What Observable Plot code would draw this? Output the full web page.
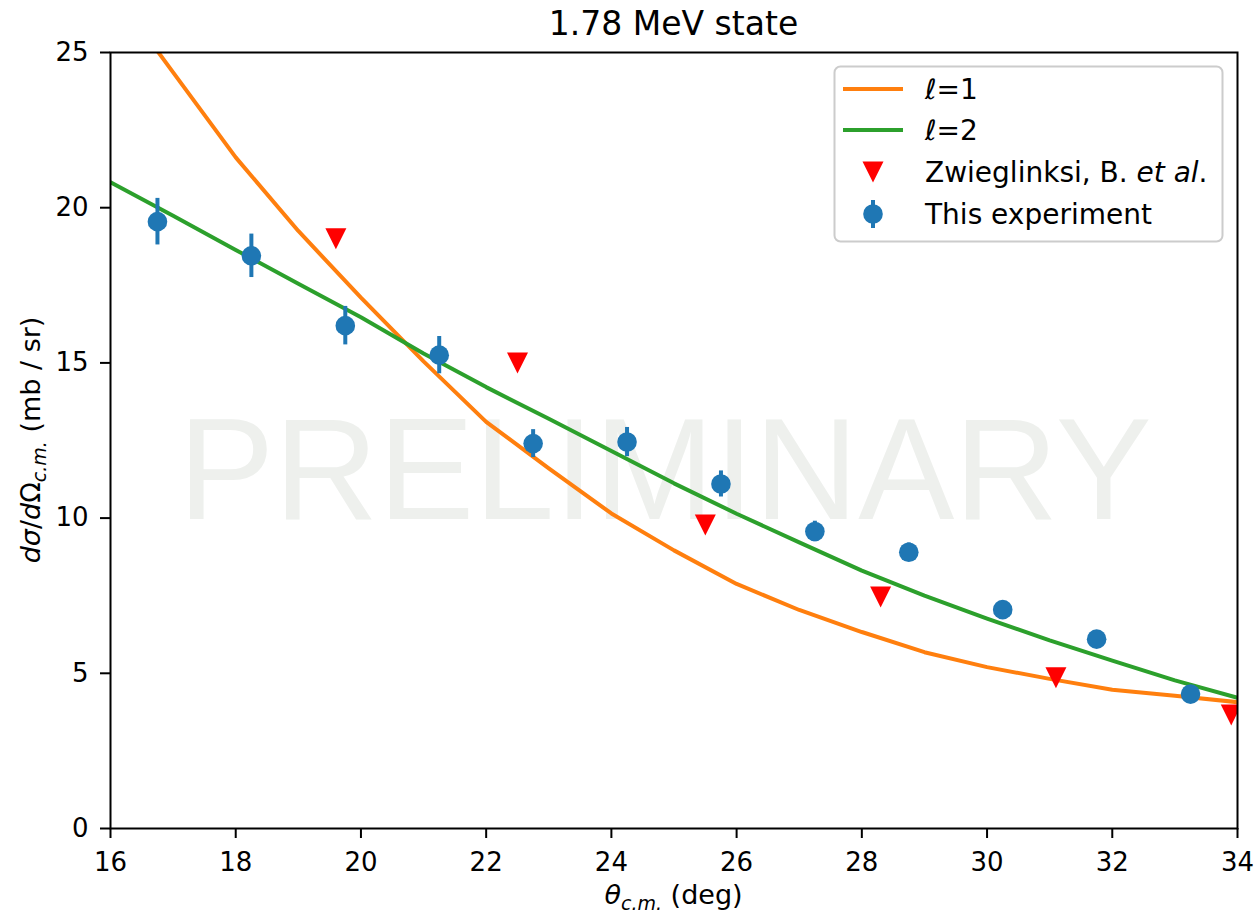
<!DOCTYPE html>
<html><head><meta charset="utf-8">
<script src="https://cdn.jsdelivr.net/npm/d3@7"></script>
<script src="https://cdn.jsdelivr.net/npm/@observablehq/plot@0.6"></script>
<style>html,body{margin:0;padding:0;background:#fff} svg{display:block}</style>
</head><body><div id="chart"></div>
<script>
// ---- data ----
const expAngle = [16.75, 18.25, 19.75, 21.25, 22.75, 24.25, 25.75, 27.25, 28.75, 30.25, 31.75, 33.25];
const expValue = [19.55, 18.45, 16.2, 15.25, 12.4, 12.45, 11.1, 9.57, 8.9, 7.05, 6.1, 4.33];
const expError = [0.75, 0.7, 0.62, 0.6, 0.45, 0.47, 0.42, 0.33, 0.3, 0.2, 0.18, 0.15];
const zwAngle = [19.6, 22.5, 25.5, 28.3, 31.1, 33.9];
const zwValue = [19.0, 15.0, 9.78, 7.46, 4.86, 3.66];
const calcAngle = [16, 17, 18, 19, 20, 21, 22, 23, 24, 25, 26, 27, 28, 29, 30, 31, 32, 33, 34];
const l1Value = [27.1, 24.36, 21.62, 19.25, 17.1, 15.05, 13.1, 11.6, 10.15, 8.96, 7.88, 7.04, 6.33, 5.68, 5.2, 4.82, 4.47, 4.28, 4.07];
const l2Value = [20.82, 19.74, 18.64, 17.55, 16.47, 15.3, 14.22, 13.2, 12.16, 11.12, 10.14, 9.22, 8.31, 7.5, 6.76, 6.06, 5.41, 4.77, 4.21];
const xTicks = [16, 18, 20, 22, 24, 26, 28, 30, 32, 34];
const yTicks = [0, 5, 10, 15, 20, 25];
const titleText = "1.78 MeV state";
const watermarkText = "PRELIMINARY";

const C_L1 = "#ff7f0e", C_L2 = "#2ca02c", C_EXP = "#1f77b4", C_ZW = "#ff0000";

const expData = expAngle.map((a, i) => ({a, v: expValue[i], lo: expValue[i] - expError[i], hi: expValue[i] + expError[i]}));
const zwData = zwAngle.map((a, i) => ({a, v: zwValue[i]}));
const l1Data = calcAngle.map((a, i) => ({a, v: l1Value[i]}));
const l2Data = calcAngle.map((a, i) => ({a, v: l2Value[i]}));

const triangleDown = {
  draw(ctx, size) {
    const a = Math.sqrt(size / Math.PI);
    ctx.moveTo(0, a);
    ctx.lineTo(-a, -a);
    ctx.lineTo(a, -a);
    ctx.closePath();
  }
};

const W = 1259, H = 916, ML = 110, MR = 22, MT = 52, MB = 88;

const svg = Plot.plot({
  width: W, height: H,
  marginLeft: ML, marginRight: MR, marginTop: MT, marginBottom: MB,
  style: {fontFamily: "DejaVu Sans", fontSize: "26px", color: "black", background: "white", overflow: "visible"},
  x: {domain: [16, 34], label: null},
  y: {domain: [0, 25], label: null},
  marks: [
    Plot.text([watermarkText], {frameAnchor: "middle", text: d => d, fontFamily: "Liberation Sans", fontSize: 144, fill: "#eef0ed", dx: -9, dy: 32}),
    Plot.line(l1Data, {x: "a", y: "v", stroke: C_L1, strokeWidth: 4, clip: true}),
    Plot.line(l2Data, {x: "a", y: "v", stroke: C_L2, strokeWidth: 4, clip: true}),
    Plot.dot(zwData, {x: "a", y: "v", symbol: triangleDown, r: 10.5, fill: C_ZW, clip: true}),
    Plot.ruleX(expData, {x: "a", y1: "lo", y2: "hi", stroke: C_EXP, strokeWidth: 4}),
    Plot.dot(expData, {x: "a", y: "v", r: 9.8, fill: C_EXP}),
    Plot.frame({stroke: "black", strokeWidth: 2}),
    Plot.axisX({ticks: xTicks, tickSize: 10, tickPadding: 14, strokeWidth: 2, label: null, tickFormat: d => String(d)}),
    Plot.axisY({ticks: yTicks, tickSize: 10, tickPadding: 12, strokeWidth: 2, label: null, tickFormat: d => String(d)})
  ]
});
document.getElementById("chart").appendChild(svg);

// ---- annotations (title, axis labels, legend) ----
const s = d3.select(svg);
const FONT = "DejaVu Sans";
const cx = ML + (W - ML - MR) / 2;

s.append("text").attr("x", cx).attr("y", 35).attr("text-anchor", "middle")
  .attr("font-family", FONT).attr("font-size", 33).attr("fill", "black").text(titleText);

// x label: θ_{c.m.} (deg)
const xl = s.append("text").attr("x", cx).attr("y", 904).attr("text-anchor", "middle")
  .attr("font-family", FONT).attr("font-size", 27).attr("fill", "black");
xl.append("tspan").attr("font-style", "italic").text("θ");
xl.append("tspan").attr("font-style", "italic").attr("font-size", 19).attr("dy", 6).text("c.m.");
xl.append("tspan").attr("dy", -6).text("\u00a0(deg)");

// y label: dσ/dΩ_{c.m.} (mb / sr)
const yl = s.append("text").attr("transform", `translate(40,${MT + (H - MT - MB) / 2}) rotate(-90)`)
  .attr("text-anchor", "middle").attr("font-family", FONT).attr("font-size", 27).attr("fill", "black");
yl.append("tspan").attr("font-style", "italic").text("dσ");
yl.append("tspan").text("/");
yl.append("tspan").attr("font-style", "italic").text("d");
yl.append("tspan").text("Ω");
yl.append("tspan").attr("font-style", "italic").attr("font-size", 19).attr("dy", 6).text("c.m.");
yl.append("tspan").attr("dy", -6).text("\u00a0(mb / sr)");

// legend
const lg = s.append("g").attr("text-anchor", "start");
lg.append("rect").attr("x", 834.5).attr("y", 66.5).attr("width", 388).attr("height", 175).attr("rx", 6)
  .attr("fill", "white").attr("fill-opacity", 0.8).attr("stroke", "#cccccc").attr("stroke-width", 2);
const rows = [89, 130, 172, 214];
const textX = 925;
lg.append("line").attr("x1", 843).attr("x2", 903).attr("y1", rows[0]).attr("y2", rows[0]).attr("stroke", C_L1).attr("stroke-width", 4);
lg.append("line").attr("x1", 843).attr("x2", 903).attr("y1", rows[1]).attr("y2", rows[1]).attr("stroke", C_L2).attr("stroke-width", 4);
lg.append("path").attr("d", `M873,${rows[2] + 10.5}L862.5,${rows[2] - 10.5}L883.5,${rows[2] - 10.5}Z`).attr("fill", C_ZW);
lg.append("line").attr("x1", 873).attr("x2", 873).attr("y1", rows[3] - 14).attr("y2", rows[3] + 14).attr("stroke", C_EXP).attr("stroke-width", 4);
lg.append("circle").attr("cx", 873).attr("cy", rows[3]).attr("r", 9.8).attr("fill", C_EXP);

function legText(y) {
  return lg.append("text").attr("x", textX).attr("y", y + 10).attr("text-anchor", "start")
    .attr("font-family", FONT).attr("font-size", 28).attr("fill", "black");
}
let t = legText(rows[0]); t.append("tspan").attr("font-style", "italic").text("ℓ"); t.append("tspan").text("=1");
t = legText(rows[1]); t.append("tspan").attr("font-style", "italic").text("ℓ"); t.append("tspan").text("=2");
t = legText(rows[2]); t.append("tspan").text("Zwieglinksi, B. "); t.append("tspan").attr("font-style", "italic").text("et al"); t.append("tspan").text(".");
t = legText(rows[3]); t.append("tspan").text("This experiment");
</script>
</body></html>
